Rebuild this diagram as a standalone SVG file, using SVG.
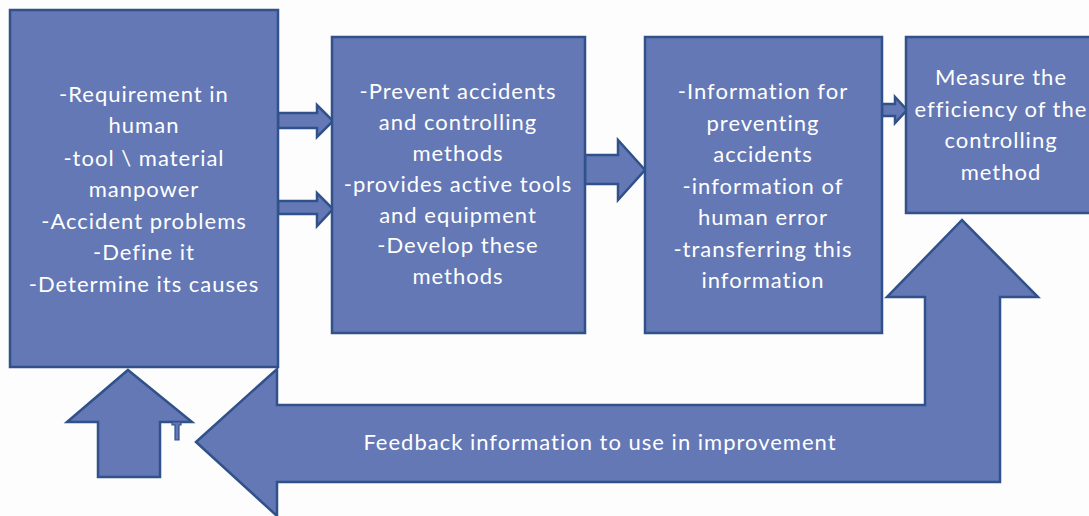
<svg xmlns="http://www.w3.org/2000/svg" width="1089" height="516" viewBox="0 0 1089 516">
<style>
.shape{fill:#6378b5;stroke:#30518a;stroke-width:2.5;stroke-linejoin:miter}
.t{font-family:Lato,"Open Sans","Liberation Sans",sans-serif;font-size:22px;letter-spacing:1px;fill:#ffffff;text-anchor:middle}
</style>
<rect width="1089" height="516" fill="#fdfdfd"/>
<g id="connectors">
<path class="shape" d="M278,113 H317 V105 L333,121 L317,137 V128 H278 Z"/>
<path class="shape" d="M278,201 H317 V193 L333,209 L317,226 V214 H278 Z"/>
<path class="shape" d="M585,155 H618 V140 L645,170 L618,200 V184 H585 Z"/>
<path class="shape" d="M882,104 H895 V97 L907,110 L895,123 V116 H882 Z"/>
<g id="feedback">
<path class="shape" d="M196,442 L277,369 V405 H925 V297 H887 L962,220 L1038,297 H1000 V482 H277 V516 Z"/>
<text class="t" x="600" y="450">Feedback information to use in improvement</text>
</g>
<path class="shape" d="M128,370 L192,422 H160 V477 H98 V422 H67 Z"/>
<path class="shape" style="stroke-width:1.2" d="M172,422 H181 V425 H179 V440 H175 V425 H172 Z"/>
</g>
<g id="node1">
<rect class="shape" x="10" y="10" width="268" height="357"/>
<text class="t" x="144" y="102">-Requirement in</text>
<text class="t" x="144" y="133">human</text>
<text class="t" x="144" y="166">-tool \ material</text>
<text class="t" x="144" y="197">manpower</text>
<text class="t" x="144" y="229">-Accident problems</text>
<text class="t" x="144" y="260">-Define it</text>
<text class="t" x="144" y="292">-Determine its causes</text>
</g>
<g id="node2">
<rect class="shape" x="332" y="37" width="253" height="296"/>
<text class="t" x="458" y="99">-Prevent accidents</text>
<text class="t" x="458" y="130">and controlling</text>
<text class="t" x="458" y="161">methods</text>
<text class="t" x="458" y="192">-provides active tools</text>
<text class="t" x="458" y="223">and equipment</text>
<text class="t" x="458" y="253">-Develop these</text>
<text class="t" x="458" y="284">methods</text>
</g>
<g id="node3">
<rect class="shape" x="645" y="37" width="237" height="296"/>
<text class="t" x="763" y="99">-Information for</text>
<text class="t" x="763" y="131">preventing</text>
<text class="t" x="763" y="162">accidents</text>
<text class="t" x="763" y="194">-information of</text>
<text class="t" x="763" y="225">human error</text>
<text class="t" x="763" y="257">-transferring this</text>
<text class="t" x="763" y="288">information</text>
</g>
<g id="node4">
<rect class="shape" x="906" y="37" width="190" height="176"/>
<text class="t" x="1001" y="85">Measure the</text>
<text class="t" x="1001" y="117">efficiency of the</text>
<text class="t" x="1001" y="148">controlling</text>
<text class="t" x="1001" y="180">method</text>
</g>
</svg>
